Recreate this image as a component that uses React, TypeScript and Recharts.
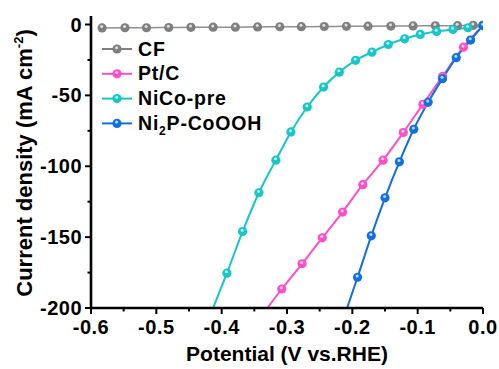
import React from 'react';
import { ComposedChart, Line, XAxis, YAxis } from 'recharts';

// tick values
const xTicks = [-0.6, -0.55, -0.5, -0.45, -0.4, -0.35, -0.3, -0.25, -0.2, -0.15, -0.1, -0.05, 0];
const yTicks = [-200, -175, -150, -125, -100, -75, -50, -25, 0];

// CF
const cfV = [-0.583, -0.548, -0.515, -0.481, -0.447, -0.413, -0.379, -0.345, -0.311, -0.278, -0.243, -0.209, -0.176, -0.141, -0.107, -0.073, -0.039, -0.015, 0];
const cfJ = [-2.4, -2.3, -2.3, -2.1, -2.0, -1.9, -1.9, -1.7, -1.6, -1.5, -1.4, -1.3, -1.2, -1.1, -1.0, -0.9, -0.8, -0.6, -0.4];

// Pt/C
const ptV = [-0.33, -0.308, -0.277, -0.246, -0.215, -0.184, -0.153, -0.122, -0.092, -0.062, -0.03, 0];
const ptJ = [-200, -186.6, -168.8, -150.5, -132.3, -113.0, -95.7, -76.2, -56.3, -36.6, -16.0, -0.7];

// NiCo-pre
const nicoV = [-0.413, -0.392, -0.368, -0.343, -0.317, -0.294, -0.269, -0.244, -0.22, -0.195, -0.17, -0.145, -0.12, -0.096, -0.071, -0.046, -0.023, 0];
const nicoJ = [-200, -175.4, -146.1, -118.7, -95.7, -75.8, -58.2, -44.1, -33.6, -25.3, -19.5, -14.1, -10.1, -7.0, -4.9, -3.5, -2.3, -0.8];

// Ni2P-CoOOH
const niV = [-0.208, -0.192, -0.171, -0.15, -0.128, -0.106, -0.084, -0.062, -0.041, -0.019, 0];
const niJ = [-200, -178.3, -149.1, -122.3, -96.9, -73.9, -54.9, -38.2, -23.4, -11.0, -0.7];

const toRows = (v: number[], j: number[]) => v.map((x, i) => ({ v: x, j: j[i] }));

const FONT = "'Liberation Sans', Arial, sans-serif";
const GRAY = '#7f7f7f';
const PINK = '#ff4fc6';
const CYAN = '#17c6c6';
const BLUE = '#116fe6';
const R = 4.6;

const makeDot = (color: string) => (props: any) => {
  const { cx, cy, payload, index } = props;
  if (cx == null || cy == null || payload.j <= -200) return <g key={index} />;
  return (
    <g key={index}>
      <circle cx={cx} cy={cy} r={R} fill={color} />
      <circle cx={cx - 0.4} cy={cy - 1.3} r={1.5} fill="#fff" fillOpacity={0.75} />
    </g>
  );
};

const XTick = (props: any) => {
  const { x, y, payload } = props;
  const v = payload.value;
  const major = Math.round(v * 100) % 10 === 0;
  return (
    <g>
      <line x1={x} y1={y} x2={x} y2={y + (major ? 6 : 3.5)} stroke="#000" strokeWidth={2} />
      {major && (
        <text x={x} y={y + 26} textAnchor="middle" fontFamily={FONT} fontWeight="bold" fontSize={20} letterSpacing={0.5} fill="#000">
          {v.toFixed(1)}
        </text>
      )}
    </g>
  );
};

const YTick = (props: any) => {
  const { x, y, payload } = props;
  const v = payload.value;
  const major = v % 50 === 0;
  return (
    <g>
      <line x1={x} y1={y} x2={x - (major ? 6 : 3.5)} y2={y} stroke="#000" strokeWidth={2} />
      {major && (
        <text x={x - 9} y={y + 7} textAnchor="end" fontFamily={FONT} fontWeight="bold" fontSize={20} letterSpacing={0.5} fill="#000">
          {v}
        </text>
      )}
    </g>
  );
};

const TopTick = (props: any) => {
  const { x, y } = props;
  return <line x1={x} y1={y} x2={x} y2={y - 2.5} stroke="#000" strokeWidth={1.5} />;
};

const RightTick = (props: any) => {
  const { x, y } = props;
  return <line x1={x} y1={y} x2={x + 2.5} y2={y} stroke="#000" strokeWidth={1.5} />;
};

const legendItems = [
  { name: 'CF', color: GRAY },
  { name: 'Pt/C', color: PINK },
  { name: 'NiCo-pre', color: CYAN },
  { name: 'Ni2P-CoOOH', color: BLUE },
];

const Overlay = () => (
  <svg width={499} height={369} style={{ position: 'absolute', left: 0, top: 0, pointerEvents: 'none' }}>
    {legendItems.map((it, i) => {
      const y = 49 + i * 24.8;
      return (
        <g key={it.name}>
          <line x1={102} y1={y} x2={132} y2={y} stroke={it.color} strokeWidth={2} />
          <circle cx={117} cy={y} r={R} fill={it.color} />
          <circle cx={116.6} cy={y - 1.3} r={1.5} fill="#fff" fillOpacity={0.75} />
          <text x={138} y={y + 6.5} fontFamily={FONT} fontWeight="bold" fontSize={19.5} letterSpacing={0.8} fill="#000">
            {it.name === 'Ni2P-CoOOH' ? (
              <>
                Ni<tspan fontSize={12} dy={5}>2</tspan>
                <tspan dy={-5}>P-CoOOH</tspan>
              </>
            ) : (
              it.name
            )}
          </text>
        </g>
      );
    })}
    <text x={287} y={361} textAnchor="middle" fontFamily={FONT} fontWeight="bold" fontSize={21} fill="#000">
      Potential (V vs.RHE)
    </text>
    <text
      x={0}
      y={0}
      transform="translate(32,163) rotate(-90)"
      textAnchor="middle"
      fontFamily={FONT}
      fontWeight="bold"
      fontSize={22}
      fill="#000"
    >
      Current density (mA cm<tspan fontSize={13} dy={-9}>-2</tspan>
      <tspan dy={9}>)</tspan>
    </text>
  </svg>
);

export default function App() {
  return (
    <div style={{ position: 'absolute', left: 0, top: 0, width: 499, height: 369, background: '#fff' }}>
      <ComposedChart width={499} height={369} margin={{ top: 16, right: 16, bottom: 0, left: 0 }}>
        <XAxis
          xAxisId="bottom"
          dataKey="v"
          type="number"
          domain={[-0.6, 0]}
          ticks={xTicks}
          interval={0}
          allowDataOverflow
          height={61}
          tickSize={0}
          tickMargin={0}
          tickLine={false}
          tick={<XTick />}
          axisLine={{ stroke: '#000', strokeWidth: 2.6 }}
        />
        <XAxis
          xAxisId="top"
          orientation="top"
          dataKey="v"
          type="number"
          domain={[-0.6, 0]}
          ticks={xTicks}
          interval={0}
          allowDataOverflow
          height={0}
          tickSize={0}
          tickMargin={0}
          tickLine={false}
          tick={<TopTick />}
          axisLine={{ stroke: '#000', strokeWidth: 2.6 }}
        />
        <YAxis
          yAxisId="left"
          type="number"
          domain={[-200, 6]}
          ticks={yTicks}
          interval={0}
          allowDataOverflow
          width={91}
          tickSize={0}
          tickMargin={0}
          tickLine={false}
          tick={<YTick />}
          axisLine={{ stroke: '#000', strokeWidth: 2.6 }}
        />
        <YAxis
          yAxisId="right"
          orientation="right"
          type="number"
          domain={[-200, 6]}
          ticks={yTicks}
          interval={0}
          allowDataOverflow
          width={0}
          tickSize={0}
          tickMargin={0}
          tickLine={false}
          tick={<RightTick />}
          axisLine={{ stroke: '#000', strokeWidth: 2.6 }}
        />
        <Line
          xAxisId="bottom"
          yAxisId="left"
          data={toRows(cfV, cfJ)}
          dataKey="j"
          type="monotone"
          stroke="#909090"
          strokeWidth={1.5}
          dot={makeDot(GRAY)}
          activeDot={false}
          isAnimationActive={false}
        />
        <Line
          xAxisId="bottom"
          yAxisId="left"
          data={toRows(ptV, ptJ)}
          dataKey="j"
          type="monotone"
          stroke={PINK}
          strokeWidth={2}
          dot={makeDot(PINK)}
          activeDot={false}
          isAnimationActive={false}
        />
        <Line
          xAxisId="bottom"
          yAxisId="left"
          data={toRows(nicoV, nicoJ)}
          dataKey="j"
          type="monotone"
          stroke={CYAN}
          strokeWidth={2}
          dot={makeDot(CYAN)}
          activeDot={false}
          isAnimationActive={false}
        />
        <Line
          xAxisId="bottom"
          yAxisId="left"
          data={toRows(niV, niJ)}
          dataKey="j"
          type="monotone"
          stroke={BLUE}
          strokeWidth={2}
          dot={makeDot(BLUE)}
          activeDot={false}
          isAnimationActive={false}
        />
      </ComposedChart>
      <Overlay />
    </div>
  );
}
